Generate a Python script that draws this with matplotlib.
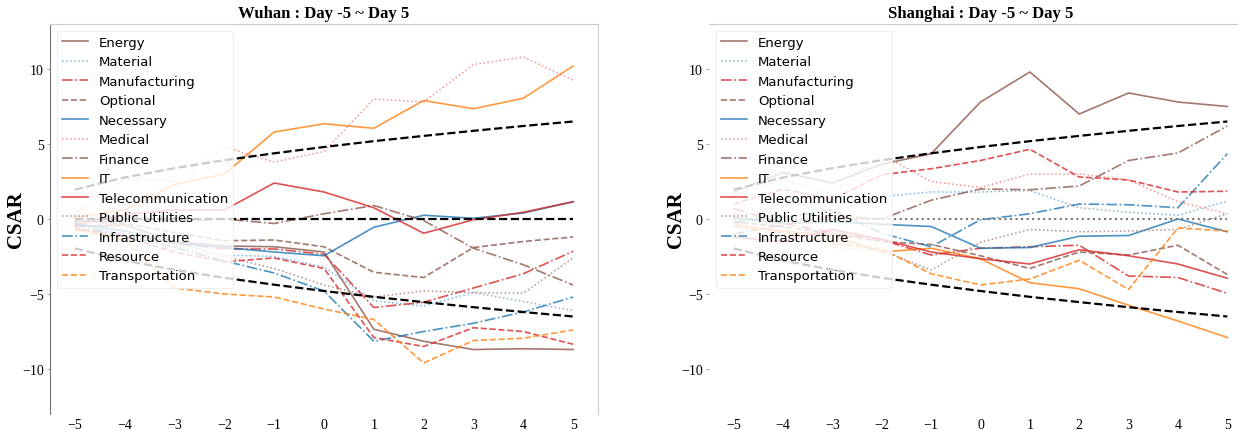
import matplotlib
matplotlib.use("Agg")
import matplotlib.pyplot as plt

# ---------------------------------------------------------------- data
days = [-5, -4, -3, -2, -1, 0, 1, 2, 3, 4, 5]
day_labels = ["\u22125", "\u22124", "\u22123", "\u22122", "\u22121", "0", "1", "2", "3", "4", "5"]

sectors = ["Energy", "Material", "Manufacturing", "Optional", "Necessary", "Medical",
           "Finance", "IT", "Telecommunication", "Public Utilities", "Infrastructure",
           "Resource", "Transportation"]

# Wuhan cumulative standardized abnormal returns
wuhan_energy = [-0.5, -0.4, -1.5, -1.8, -1.85, -2.2, -7.35, -8.15, -8.7, -8.65, -8.7]
wuhan_material = [-0.3, -1.0, -1.6, -2.4, -2.5, -3.2, -5.45, -5.8, -4.9, -5.5, -6.1]
wuhan_manufacturing = [-0.7, -1.0, -1.6, -2.0, -2.0, -2.35, -5.9, -5.55, -4.6, -3.65, -2.15]
wuhan_optional = [-0.1, -0.3, -0.9, -1.45, -1.4, -1.85, -3.55, -3.9, -1.9, -1.5, -1.2]
wuhan_necessary = [-0.3, -0.8, -1.6, -1.9, -2.2, -2.45, -0.55, 0.25, 0.05, 0.4, 1.15]
wuhan_medical = [0.3, 2.7, 2.5, 4.8, 3.8, 4.5, 8.0, 7.8, 10.3, 10.8, 9.25]
wuhan_finance = [-0.2, 0.2, -0.2, 0.0, -0.3, 0.35, 0.9, -0.1, -1.95, -3.05, -4.4]
wuhan_it = [0.1, 0.6, 2.3, 3.0, 5.8, 6.35, 6.05, 7.9, 7.35, 8.05, 10.2]
wuhan_telecom = [-0.4, 0.3, 0.6, 0.6, 2.4, 1.8, 0.75, -0.95, -0.05, 0.45, 1.15]
wuhan_utilities = [0.2, -0.6, -1.8, -2.5, -3.3, -4.4, -5.2, -4.8, -4.9, -4.95, -2.6]
wuhan_infrastructure = [-0.4, -1.1, -1.9, -2.8, -3.6, -4.8, -8.15, -7.5, -6.95, -6.2, -5.2]
wuhan_resource = [-0.6, -1.2, -2.2, -2.85, -2.6, -3.3, -7.9, -8.5, -7.25, -7.5, -8.35]
wuhan_transportation = [-0.7, -1.4, -4.6, -5.0, -5.2, -6.0, -6.7, -9.6, -8.1, -7.95, -7.4]

# Shanghai cumulative standardized abnormal returns
shanghai_energy = [1.8, 3.1, 2.4, 3.65, 4.35, 7.8, 9.8, 7.0, 8.4, 7.8, 7.5]
shanghai_material = [-0.6, 1.2, 0.5, 1.5, 1.8, 1.8, 1.9, 0.75, 0.45, 0.25, 1.2]
shanghai_manufacturing = [0.7, -0.3, -0.9, -1.4, -2.4, -1.95, -1.85, -1.75, -3.8, -3.9, -4.95]
shanghai_optional = [-0.2, -0.5, -1.0, -1.5, -1.7, -2.45, -3.3, -2.2, -2.4, -1.75, -3.7]
shanghai_necessary = [0.1, -0.3, -0.2, -0.35, -0.5, -1.95, -1.9, -1.15, -1.1, 0.0, -0.85]
shanghai_medical = [1.6, 2.6, 1.7, 4.3, 2.5, 2.1, 3.0, 3.0, 2.6, 1.15, 0.35]
shanghai_finance = [-1.0, -0.4, 0.2, 0.0, 1.25, 2.0, 1.95, 2.2, 3.9, 4.4, 6.2]
shanghai_it = [-0.5, -0.8, -1.1, -2.2, -1.95, -2.65, -4.25, -4.65, -5.75, -6.8, -7.9]
shanghai_telecom = [-1.2, -1.5, -0.7, -1.35, -2.2, -2.65, -3.0, -2.05, -2.45, -3.0, -3.95]
shanghai_utilities = [0.4, -0.6, -1.9, -2.1, -3.4, -1.55, -0.7, -0.85, -0.8, -0.7, 0.35]
shanghai_infrastructure = [-0.2, 0.1, 0.6, -0.95, -1.85, -0.05, 0.35, 1.0, 0.95, 0.75, 4.35]
shanghai_resource = [1.0, 2.0, 1.3, 2.95, 3.35, 3.9, 4.65, 2.8, 2.6, 1.8, 1.85]
shanghai_transportation = [-0.3, -0.9, -1.6, -2.0, -3.65, -4.4, -4.0, -2.75, -4.7, -0.6, -0.8]

# significance bounds
upper_bound = [1.96, 2.77, 3.39, 3.92, 4.38, 4.80, 5.19, 5.54, 5.88, 6.20, 6.50]
lower_bound = [-1.96, -2.77, -3.39, -3.92, -4.38, -4.80, -5.19, -5.54, -5.88, -6.20, -6.50]
zero_line = [0, 0, 0, 0, 0, 0, 0, 0, 0, 0, 0]

wuhan_series = [wuhan_energy, wuhan_material, wuhan_manufacturing, wuhan_optional,
                wuhan_necessary, wuhan_medical, wuhan_finance, wuhan_it, wuhan_telecom,
                wuhan_utilities, wuhan_infrastructure, wuhan_resource, wuhan_transportation]
shanghai_series = [shanghai_energy, shanghai_material, shanghai_manufacturing, shanghai_optional,
                   shanghai_necessary, shanghai_medical, shanghai_finance, shanghai_it,
                   shanghai_telecom, shanghai_utilities, shanghai_infrastructure,
                   shanghai_resource, shanghai_transportation]

# ---------------------------------------------------------------- styles
BROWN, BLUE, RED, ORANGE = "#8c564b", "#1f77b4", "#d62728", "#ff7f0e"
LIGHT_BLUE, LIGHT_RED, ROSY = "#5fa2d6", "#ef7b7b", "#a5756c"
styles = [
    (BROWN, "-", 1.2), (LIGHT_BLUE, ":", 1.1), (RED, "-.", 1.2), (BROWN, "--", 1.2),
    (BLUE, "-", 1.2), (LIGHT_RED, ":", 1.1), (BROWN, "-.", 1.2), (ORANGE, "-", 1.2),
    (RED, "-", 1.2), (ROSY, ":", 1.1), (BLUE, "-.", 1.2), (RED, "--", 1.2),
    (ORANGE, "--", 1.2),
]

SERIF = "Liberation Serif"

fig = plt.figure(figsize=(12.38, 4.31), dpi=100)


def draw_panel(ax, series, title, zero_style, label_x):
    handles = []
    for name, values, (color, ls, lw) in zip(sectors, series, styles):
        (h,) = ax.plot(days, values, color=color, linestyle=ls, linewidth=lw,
                       alpha=0.8, label=name, zorder=2)
        handles.append(h)
    ax.plot(days, upper_bound, color="black", linestyle="--", linewidth=1.6, zorder=3)
    ax.plot(days, lower_bound, color="black", linestyle="--", linewidth=1.6, zorder=3)
    zc, zls, zlw = zero_style
    ax.plot(days, zero_line, color=zc, linestyle=zls, linewidth=zlw, zorder=3)

    ax.set_xlim(-5.5, 5.5)
    ax.set_ylim(-13, 13)
    ax.set_xticks(days)
    ax.set_xticklabels(day_labels, fontfamily=SERIF, fontsize=10)
    ax.set_yticks([-10, -5, 0, 5, 10])
    ax.set_yticklabels(["\u221210", "\u22125", "0", "5", "10"], fontfamily=SERIF, fontsize=10)
    ax.tick_params(axis="x", length=0, pad=3)
    ax.tick_params(axis="y", length=2.5, width=0.6, color="0.6", pad=2)
    ax.set_title(title, fontfamily=SERIF, fontweight="bold", fontsize=12, pad=5)
    ax.set_ylabel("CSAR", fontfamily=SERIF, fontweight="bold", fontsize=15)
    ax.yaxis.set_label_coords(label_x, 0.5)

    leg = ax.legend(handles=handles, loc="upper left", fontsize=9.5, labelspacing=0.49,
                    framealpha=0.8, borderaxespad=0.5, handlelength=2.0,
                    handletextpad=0.8, borderpad=0.4)
    leg.get_frame().set_edgecolor("0.92")
    leg.get_frame().set_linewidth(0.8)
    return ax


ax1 = fig.add_axes([50 / 1238, 16 / 431, 548 / 1238, 390 / 431])
draw_panel(ax1, wuhan_series, "Wuhan : Day -5 ~ Day 5", ("black", "--", 1.6), -0.044)
ax1.spines["left"].set_color("0.45")
ax1.spines["top"].set_color("0.8")
ax1.spines["right"].set_color("0.8")
ax1.spines["bottom"].set_visible(False)

ax2 = fig.add_axes([709 / 1238, 16 / 431, 543 / 1238, 390 / 431])
draw_panel(ax2, shanghai_series, "Shanghai : Day -5 ~ Day 5", ("0.45", ":", 1.5), -0.042)
ax2.spines["top"].set_color("0.8")
ax2.spines["left"].set_visible(False)
ax2.spines["right"].set_visible(False)
ax2.spines["bottom"].set_visible(False)

fig.savefig("out.png", dpi=100)
